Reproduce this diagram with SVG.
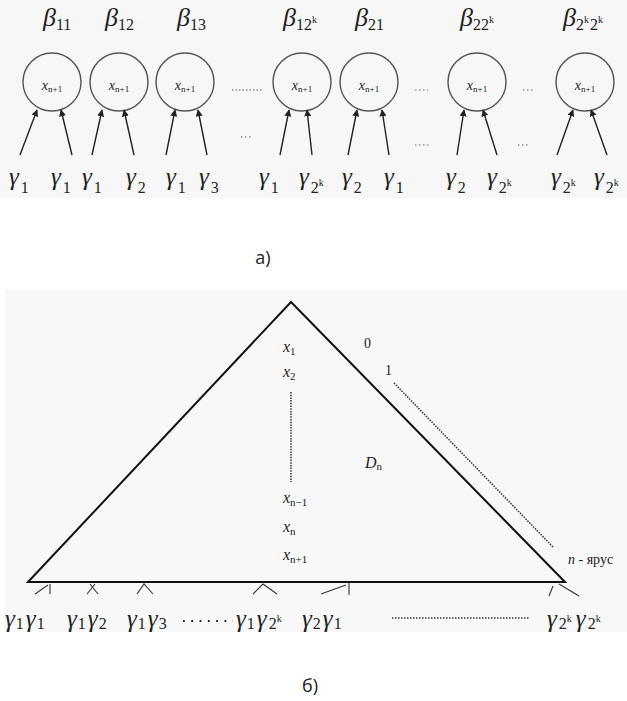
<svg xmlns="http://www.w3.org/2000/svg" width="627" height="701" viewBox="0 0 627 701">
<defs>
<style>
text,tspan{font-family:"Liberation Serif","DejaVu Serif",serif}
.g{font-style:italic;font-size:25px;fill:#222}
.b{font-style:italic;font-size:26px;fill:#222}
.s{font-style:normal;font-size:16px}
.sk{font-style:normal;font-size:10px}
.x{font-style:italic;font-size:14px;fill:#222}
.xs{font-style:normal;font-size:9px}
.t{font-style:italic;font-size:16px;fill:#222}
.ts{font-style:normal;font-size:11px}
.n{font-size:14px;fill:#222}
text.cap{font-family:"Open Sans","DejaVu Sans",sans-serif;font-size:18px;fill:#222}
.c{fill:none;stroke:#555;stroke-width:1.4}
.a{stroke:#222;stroke-width:1.4;fill:none;marker-end:url(#ah)}
.tk{stroke:#333;stroke-width:1.1;fill:none}
</style>
<marker id="ah" viewBox="0 0 10 10" refX="9" refY="5" markerWidth="7" markerHeight="7" orient="auto" markerUnits="userSpaceOnUse">
<path d="M0,0 L10,5 L0,10 z" fill="#222"/>
</marker>
</defs>
<rect x="0" y="0" width="627" height="198" fill="#f6f7f6"/>
<rect x="5" y="290" width="622" height="342" fill="#f7f8f7"/>

<g id="beta-labels">
<text class="b" x="43" y="26">β<tspan class="s" dy="4">11</tspan></text>
<text class="b" x="105" y="26">β<tspan class="s" dy="4">12</tspan></text>
<text class="b" x="177" y="26">β<tspan class="s" dy="4">13</tspan></text>
<text class="b" x="283" y="26">β<tspan class="s" dy="4">12</tspan><tspan class="sk" dy="-7">k</tspan></text>
<text class="b" x="355" y="26">β<tspan class="s" dy="4">21</tspan></text>
<text class="b" x="460" y="26">β<tspan class="s" dy="4">22</tspan><tspan class="sk" dy="-7">k</tspan></text>
<text class="b" x="563" y="26">β<tspan class="s" dy="4">2</tspan><tspan class="sk" dy="-7">k</tspan><tspan class="s" dy="7" dx="1">2</tspan><tspan class="sk" dy="-7">k</tspan></text>
</g>

<g id="node1"><circle class="c" cx="52" cy="82" r="29"/><text class="x" x="52" y="90" text-anchor="middle">x<tspan class="xs" dy="2">n+1</tspan></text></g>
<g id="node2"><circle class="c" cx="119" cy="82" r="29"/><text class="x" x="119" y="90" text-anchor="middle">x<tspan class="xs" dy="2">n+1</tspan></text></g>
<g id="node3"><circle class="c" cx="185" cy="82" r="29"/><text class="x" x="185" y="90" text-anchor="middle">x<tspan class="xs" dy="2">n+1</tspan></text></g>
<g id="node4"><circle class="c" cx="302" cy="82" r="29"/><text class="x" x="302" y="90" text-anchor="middle">x<tspan class="xs" dy="2">n+1</tspan></text></g>
<g id="node5"><circle class="c" cx="369" cy="82" r="29"/><text class="x" x="369" y="90" text-anchor="middle">x<tspan class="xs" dy="2">n+1</tspan></text></g>
<g id="node6"><circle class="c" cx="477" cy="82" r="29"/><text class="x" x="477" y="90" text-anchor="middle">x<tspan class="xs" dy="2">n+1</tspan></text></g>
<g id="node7"><circle class="c" cx="585" cy="82" r="29"/><text class="x" x="585" y="90" text-anchor="middle">x<tspan class="xs" dy="2">n+1</tspan></text></g>

<g id="connectors">
<line class="a" x1="20" y1="155" x2="37" y2="110"/>
<line class="a" x1="72" y1="155" x2="61" y2="110"/>
<line class="a" x1="92" y1="155" x2="102" y2="110"/>
<line class="a" x1="134" y1="155" x2="124" y2="110"/>
<line class="a" x1="166" y1="155" x2="175" y2="110"/>
<line class="a" x1="207" y1="155" x2="198" y2="110"/>
<line class="a" x1="280" y1="155" x2="289" y2="110"/>
<line class="a" x1="312" y1="155" x2="307" y2="110"/>
<line class="a" x1="348" y1="155" x2="357" y2="110"/>
<line class="a" x1="389" y1="155" x2="382" y2="110"/>
<line class="a" x1="457" y1="155" x2="464" y2="110"/>
<line class="a" x1="497" y1="155" x2="483" y2="110"/>
<line class="a" x1="557" y1="155" x2="573" y2="110"/>
<line class="a" x1="607" y1="155" x2="591" y2="110"/>
</g>

<g id="dots-top">
<line x1="232" y1="90" x2="262" y2="90" stroke="#555" stroke-width="1.2" stroke-dasharray="1.5,2"/>
<line x1="241" y1="137" x2="252" y2="137" stroke="#666" stroke-width="1" stroke-dasharray="1.5,2.5"/>
<line x1="415" y1="90" x2="428" y2="90" stroke="#666" stroke-width="1" stroke-dasharray="1.5,2.5"/>
<line x1="415" y1="145" x2="430" y2="145" stroke="#666" stroke-width="1" stroke-dasharray="1.5,2.5"/>
<line x1="523" y1="90" x2="535" y2="90" stroke="#666" stroke-width="1" stroke-dasharray="1.5,2.5"/>
<line x1="518" y1="145" x2="530" y2="145" stroke="#666" stroke-width="1" stroke-dasharray="1.5,2.5"/>
</g>

<g id="gamma-top">
<text class="g" x="9" y="185">γ<tspan class="s" dy="8" dx="2">1</tspan></text>
<text class="g" x="51" y="185">γ<tspan class="s" dy="8" dx="2">1</tspan></text>
<text class="g" x="82" y="185">γ<tspan class="s" dy="8" dx="2">1</tspan></text>
<text class="g" x="126" y="185">γ<tspan class="s" dy="8" dx="2">2</tspan></text>
<text class="g" x="166" y="185">γ<tspan class="s" dy="8" dx="2">1</tspan></text>
<text class="g" x="199" y="185">γ<tspan class="s" dy="8" dx="2">3</tspan></text>
<text class="g" x="259" y="185">γ<tspan class="s" dy="8" dx="2">1</tspan></text>
<text class="g" x="299" y="185">γ<tspan class="s" dy="8" dx="2">2</tspan><tspan class="sk" dy="-7">k</tspan></text>
<text class="g" x="342" y="185">γ<tspan class="s" dy="8" dx="2">2</tspan></text>
<text class="g" x="384" y="185">γ<tspan class="s" dy="8" dx="2">1</tspan></text>
<text class="g" x="446" y="185">γ<tspan class="s" dy="8" dx="2">2</tspan></text>
<text class="g" x="487" y="185">γ<tspan class="s" dy="8" dx="2">2</tspan><tspan class="sk" dy="-7">k</tspan></text>
<text class="g" x="551" y="185">γ<tspan class="s" dy="8" dx="2">2</tspan><tspan class="sk" dy="-7">k</tspan></text>
<text class="g" x="594" y="185">γ<tspan class="s" dy="8" dx="2">2</tspan><tspan class="sk" dy="-7">k</tspan></text>
</g>

<text class="cap" x="263" y="264" text-anchor="middle">а)</text>

<g id="triangle">
<path d="M28,582 L291,302 L565,582 Z" fill="none" stroke="#111" stroke-width="2"/>
</g>

<g id="ticks">
<path class="tk" d="M35,594 L48,585 M50,584 L50,594"/>
<path class="tk" d="M87,594 L95,584 M98,594 L90,584"/>
<path class="tk" d="M137,594 L144,584 L153,594"/>
<path class="tk" d="M253,594 L263,584 L277,594"/>
<path class="tk" d="M321,594 L346,585 M349,583 L349,595"/>
<path class="tk" d="M549,596 L553,586 M559,584 L579,596"/>
</g>

<g id="inside">
<text class="t" x="283" y="352">x<tspan class="ts" dy="3">1</tspan></text>
<text class="t" x="283" y="377">x<tspan class="ts" dy="3">2</tspan></text>
<line x1="291" y1="392" x2="291" y2="482" stroke="#333" stroke-width="1.5" stroke-dasharray="1.5,1.2"/>
<text class="t" x="283" y="503">x<tspan class="ts" dy="3">n−1</tspan></text>
<text class="t" x="283" y="532">x<tspan class="ts" dy="3">n</tspan></text>
<text class="t" x="283" y="560">x<tspan class="ts" dy="3">n+1</tspan></text>
<text class="n" x="364" y="348">0</text>
<text class="n" x="385" y="375">1</text>
<line x1="394" y1="383" x2="553" y2="547" stroke="#333" stroke-width="1.5" stroke-dasharray="1.5,1.2"/>
<text class="t" x="365" y="468">D<tspan class="ts" dy="2">n</tspan></text>
<text class="n" x="568" y="564"><tspan font-style="italic">n</tspan> - ярус</text>
</g>

<g id="gamma-bottom">
<text class="g" x="5" y="627">γ<tspan class="s" dy="2" dx="1">1</tspan><tspan dy="-2" dx="2">γ</tspan><tspan class="s" dy="2" dx="1">1</tspan></text>
<text class="g" x="67" y="627">γ<tspan class="s" dy="2" dx="1">1</tspan><tspan dy="-2" dx="2">γ</tspan><tspan class="s" dy="2" dx="1">2</tspan></text>
<text class="g" x="127" y="627">γ<tspan class="s" dy="2" dx="1">1</tspan><tspan dy="-2" dx="2">γ</tspan><tspan class="s" dy="2" dx="1">3</tspan></text>
<line x1="183" y1="621" x2="233" y2="621" stroke="#222" stroke-width="1.8" stroke-dasharray="1.8,6.5"/>
<text class="g" x="236" y="627">γ<tspan class="s" dy="2" dx="1">1</tspan><tspan dy="-2" dx="2">γ</tspan><tspan class="s" dy="2" dx="2">2</tspan><tspan class="sk" dy="-7">k</tspan></text>
<text class="g" x="302" y="627">γ<tspan class="s" dy="2" dx="1">2</tspan><tspan dy="-2" dx="2">γ</tspan><tspan class="s" dy="2" dx="1">1</tspan></text>
<line x1="392" y1="618" x2="530" y2="618" stroke="#333" stroke-width="1.3" stroke-dasharray="1.5,1.5"/>
<text class="g" x="547" y="627">γ<tspan class="s" dy="2" dx="2">2</tspan><tspan class="sk" dy="-7">k</tspan><tspan dy="5" dx="4">γ</tspan><tspan class="s" dy="2" dx="2">2</tspan><tspan class="sk" dy="-7">k</tspan></text>
</g>

<text class="cap" x="310" y="692" text-anchor="middle">б)</text>
</svg>
